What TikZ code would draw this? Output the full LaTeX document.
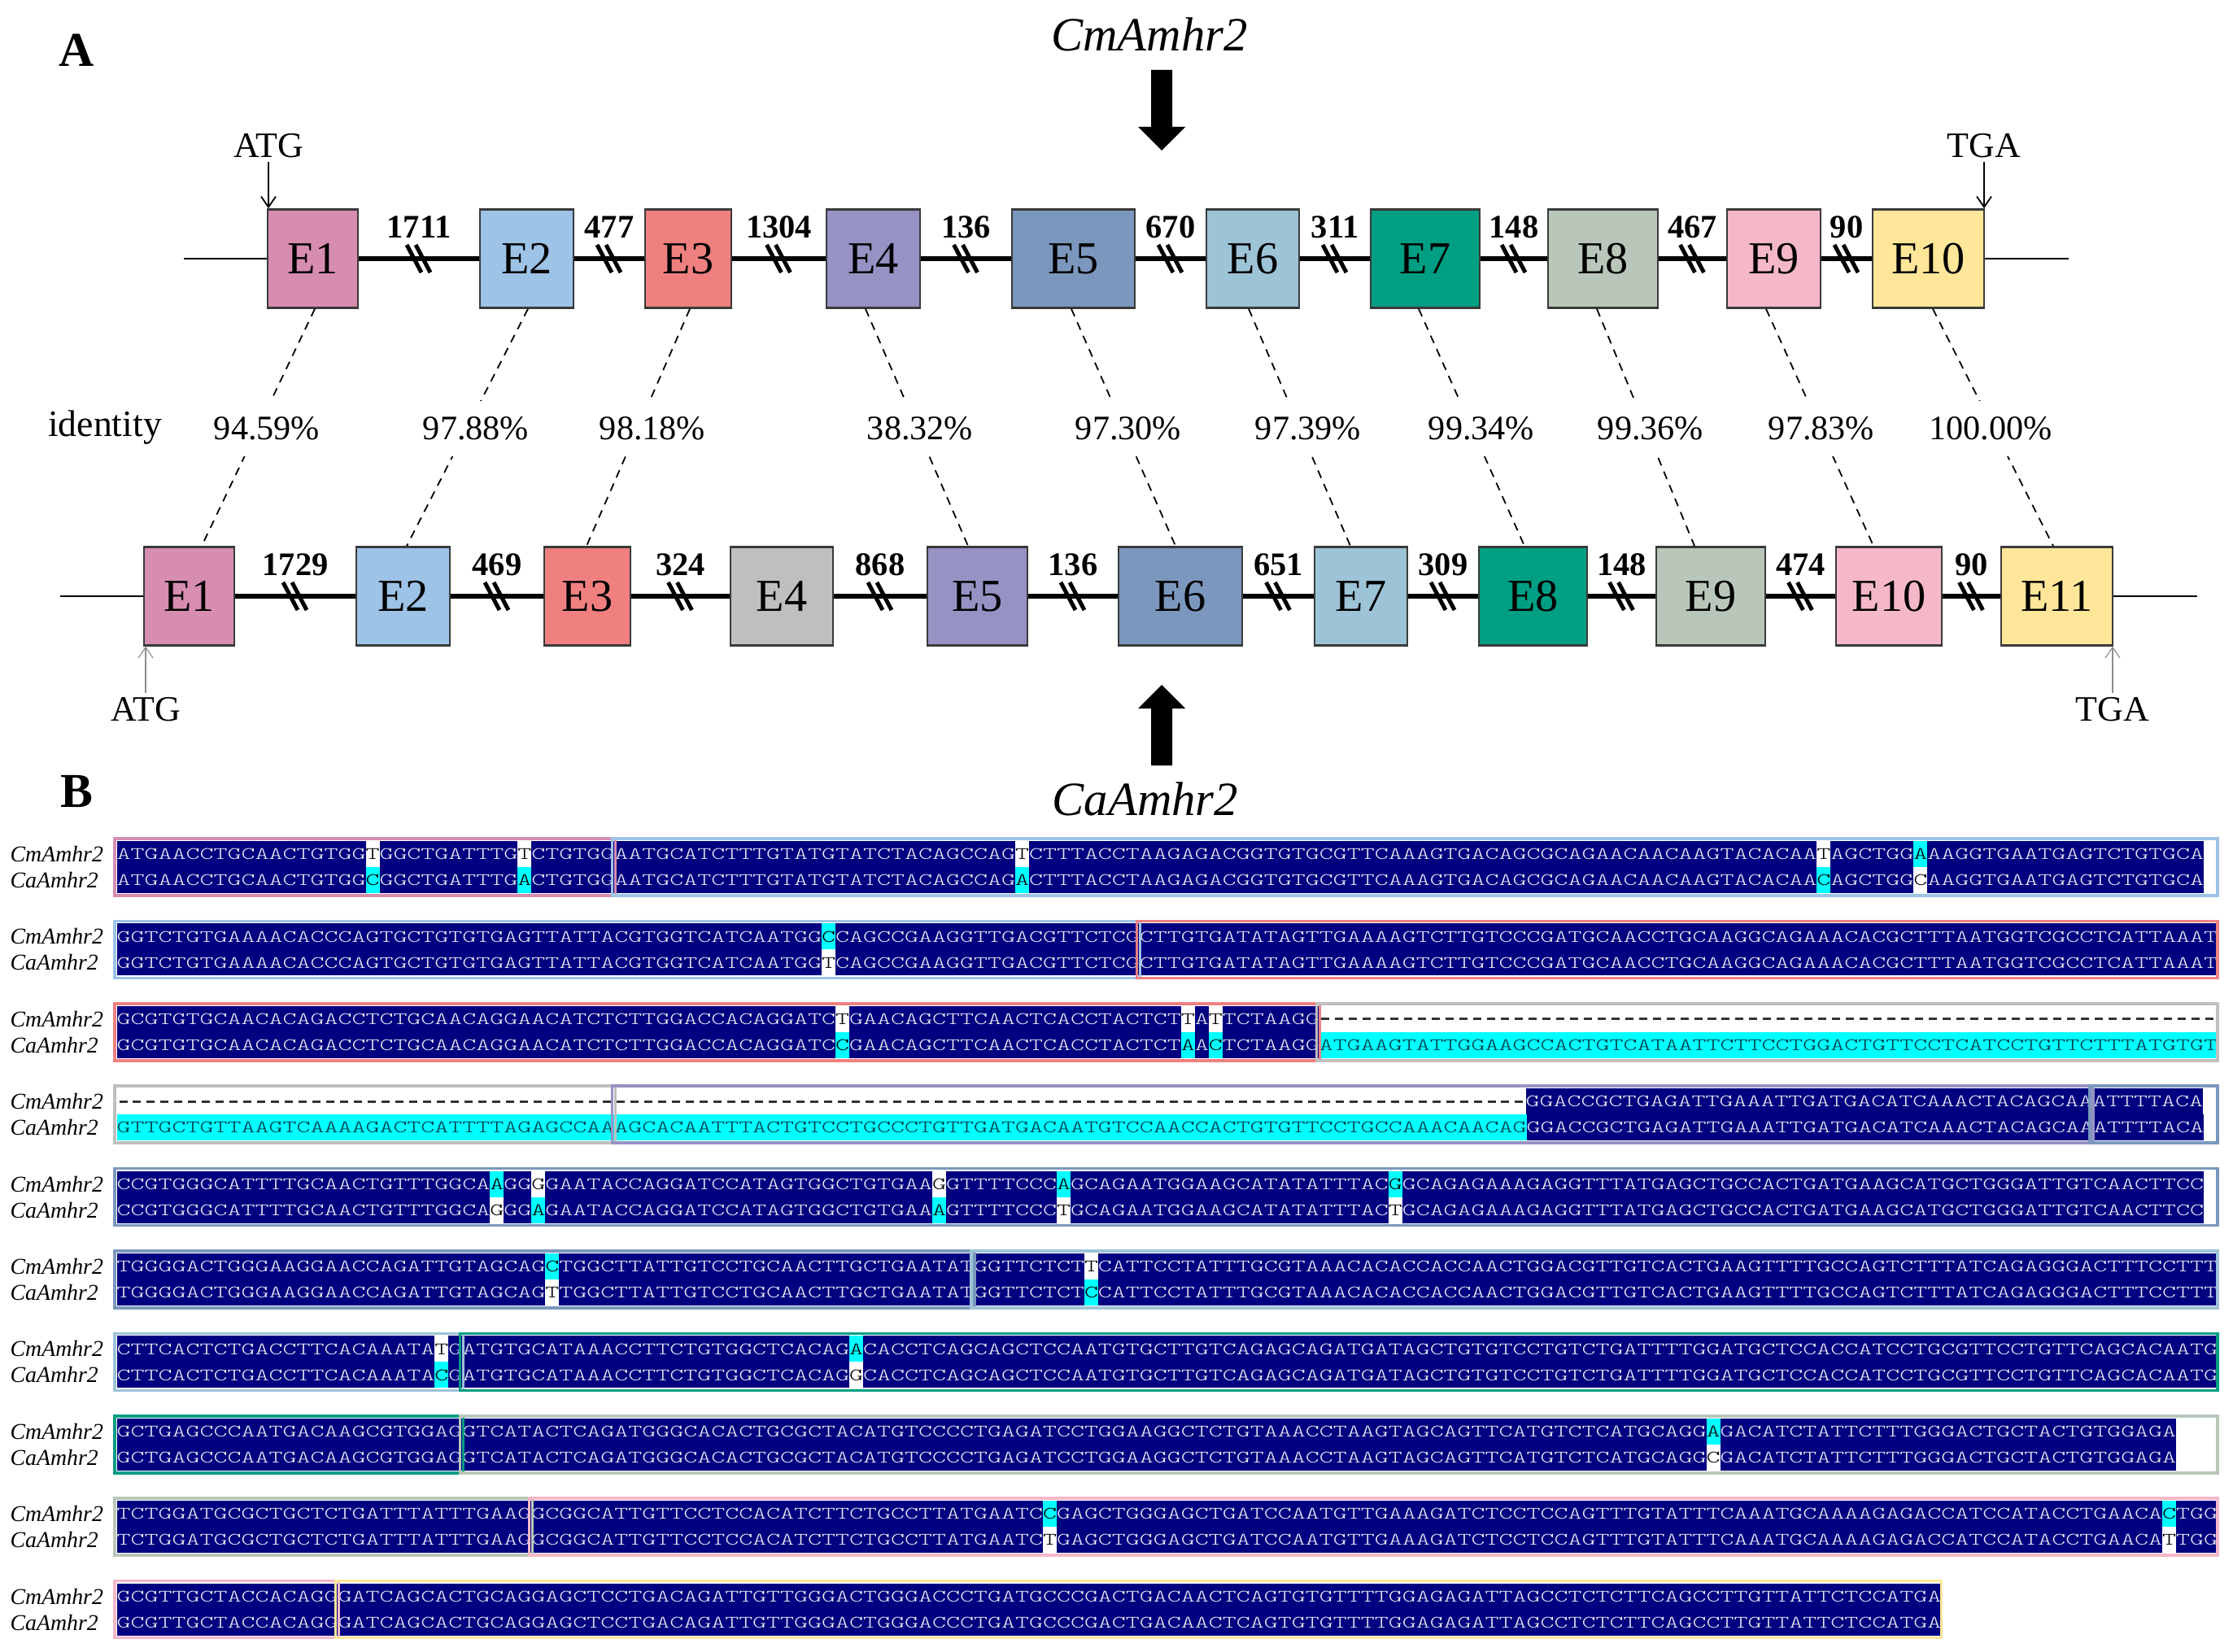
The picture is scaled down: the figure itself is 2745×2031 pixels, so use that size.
\documentclass[tikz,border=0pt]{standalone}
\usepackage{fontspec}
\usepackage{graphicx}
\setmainfont{Liberation Serif}
\newfontfamily\seqff{lmmonolt10-regular.otf}
\usetikzlibrary{calc,arrows.meta}
\definecolor{cE1}{HTML}{D68DB0}
\definecolor{cE2}{HTML}{9DC3E6}
\definecolor{cE3}{HTML}{F08080}
\definecolor{cE4}{HTML}{9692C4}
\definecolor{cE5}{HTML}{7B97BD}
\definecolor{cE6}{HTML}{9DC3D6}
\definecolor{cE7}{HTML}{009E82}
\definecolor{cE8}{HTML}{B9C7BA}
\definecolor{cE9}{HTML}{F5B8C8}
\definecolor{cE10}{HTML}{FFE699}
\definecolor{cGr}{HTML}{BFBFBF}
\definecolor{exonline}{HTML}{3A3A3A}
\definecolor{arrowgray}{HTML}{8C8C8C}
\definecolor{seqnavy}{HTML}{000080}
\definecolor{seqtext}{HTML}{E6E6F2}
\definecolor{hicyan}{HTML}{00FFFF}
\definecolor{cyantext}{HTML}{003A48}
\definecolor{dashgray}{HTML}{333333}
\newlength\cwd
\newcommand\seqbase{\fontsize{6.124pt}{7pt}\seqff}
\AtBeginDocument{\settowidth{\cwd}{\seqbase A}\pgfmathsetmacro\sxf{4.8313/\cwd}\xdef\sxf{\sxf}}
\newcommand\sq{\rule[-2.65pt]{0pt}{9.1pt}}
\newcommand\hW[1]{{\fboxsep=0pt\colorbox{white}{\sq\color{black}#1}}}
\newcommand\hC[1]{{\fboxsep=0pt\colorbox{hicyan}{\sq\color{black}#1}}}
\newcommand\gC[1]{{\fboxsep=0pt\colorbox{hicyan}{\sq\color{cyantext}#1}}}
\newcommand\sqt[1]{\scalebox{\sxf}[1]{\seqbase\sq#1}}
\newcommand\seqrow[5]{%
\node[seqline,anchor=west] (cm#1) at ({143+(#2-1)*16.98},{1031+(#1-1)*101.4+19}) {\sqt{#3}};
\node[seqline,anchor=west] (ca#1) at ({143+(#4-1)*16.98},{1031+(#1-1)*101.4+51}) {\sqt{#5}};
\node[seqlab,anchor=west] (lcm#1) at (12,{1031+(#1-1)*101.4+19}) {CmAmhr2};
\node[seqlab,anchor=west] (lca#1) at (12,{1031+(#1-1)*101.4+51}) {CaAmhr2};}
\newcommand\exseg[4]{\draw[exseg,draw=#4] ({143+(#2-1)*16.98-2},{1031+(#1-1)*101.4}) rectangle ({143+#3*16.98+2},{1031+(#1-1)*101.4+70});}
\newcommand\gapdash[3]{\draw[gapdash] ({143+(#2-1)*16.98+3.5},{1031+(#1-1)*101.4+19}) -- ({143+#3*16.98},{1031+(#1-1)*101.4+19});}
\newcommand\exon[6]{\node[exon,fill=#5,minimum width={(#3-#2)*0.01cm}] (#1) at ({(#2+#3)/2},#4) {#6};}
\begin{document}
\begin{tikzpicture}[x=0.01cm,y=-0.01cm,
  exon/.style={draw=exonline,line width=0.025cm,minimum height=1.21cm,inner sep=0pt,font=\fontsize{16}{18}\selectfont},
  intron/.style={line width=0.065cm},
  thinline/.style={line width=0.02cm},
  brkline/.style={line width=0.05cm},
  inlab/.style={font=\bfseries\fontsize{11.5}{13}\selectfont,inner sep=0pt},
  pct/.style={font=\fontsize{12}{14}\selectfont,fill=white,inner xsep=0.03cm,inner ysep=0.2cm},
  idash/.style={dash pattern=on 0.1cm off 0.08cm,line width=0.018cm},
  cod/.style={font=\fontsize{12.5}{14}\selectfont,inner sep=0.05cm},
  codarrow/.style={line width=0.018cm,-{Straight Barb[length=0.13cm,width=0.18cm]}},
  codarrowg/.style={codarrow,draw=arrowgray,line width=0.012cm},
  gene/.style={font=\itshape\fontsize{16.7}{19}\selectfont,inner sep=0pt},
  panel/.style={font=\bfseries\fontsize{17}{19}\selectfont,inner sep=0pt},
  seqline/.style={fill=seqnavy,text=seqtext,inner sep=0pt},
  seqlab/.style={font=\itshape\fontsize{7.9}{9}\selectfont,inner sep=0pt},
  exseg/.style={line width=0.035cm},
  gapdash/.style={line width=0.03cm,draw=dashgray,dash pattern=on 0.1cm off 0.0698cm}]
\useasboundingbox (0,0) rectangle (2745,2031);
% ---------------- Panel A ----------------
\node[panel] (pA) at (94,62) {A};
\node[panel] (pB) at (94,973) {B};
\node[gene] (gCm) at (1413,42) {CmAmhr2};
\node[gene] (gCa) at (1408,982) {CaAmhr2};
\fill (1415,86) -- (1441,86) -- (1441,156) -- (1457,156) -- (1428,185) -- (1399,156) -- (1415,156) -- cycle;
\fill (1415,941) -- (1441,941) -- (1441,871) -- (1457,871) -- (1428,842) -- (1399,871) -- (1415,871) -- cycle;
% top gene
\exon{tE1}{329}{440}{318}{cE1}{E1}
\exon{tE2}{590}{705}{318}{cE2}{E2}
\exon{tE3}{793}{899}{318}{cE3}{E3}
\exon{tE4}{1016}{1131}{318}{cE4}{E4}
\exon{tE5}{1244}{1395}{318}{cE5}{E5}
\exon{tE6}{1483}{1597}{318}{cE6}{E6}
\exon{tE7}{1685}{1819}{318}{cE7}{E7}
\exon{tE8}{1903}{2038}{318}{cE8}{E8}
\exon{tE9}{2123}{2238}{318}{cE9}{E9}
\exon{tE10}{2302}{2439}{318}{cE10}{E10}
% bottom gene
\exon{bE1}{177}{288}{733}{cE1}{E1}
\exon{bE2}{438}{553}{733}{cE2}{E2}
\exon{bE3}{669}{775}{733}{cE3}{E3}
\exon{bE4}{898}{1024}{733}{cGr}{E4}
\exon{bE5}{1140}{1263}{733}{cE4}{E5}
\exon{bE6}{1375}{1527}{733}{cE5}{E6}
\exon{bE7}{1616}{1730}{733}{cE6}{E7}
\exon{bE8}{1818}{1951}{733}{cE7}{E8}
\exon{bE9}{2036}{2170}{733}{cE8}{E9}
\exon{bE10}{2257}{2387}{733}{cE9}{E10}
\exon{bE11}{2460}{2597}{733}{cE10}{E11}
\coordinate (tL) at (226,318);
\coordinate (tR) at (2543,318);
\coordinate (bL) at (74,733);
\coordinate (bR) at (2701,733);
\draw[thinline] (tL) -- (tE1);
\draw[thinline] (tE10) -- (tR);
\draw[thinline] (bL) -- (bE1);
\draw[thinline] (bE11) -- (bR);
\foreach \a/\b/\n [count=\i] in {tE1/tE2/1711,tE2/tE3/477,tE3/tE4/1304,tE4/tE5/136,tE5/tE6/670,tE6/tE7/311,tE7/tE8/148,tE8/tE9/467,tE9/tE10/90,
  bE1/bE2/1729,bE2/bE3/469,bE3/bE4/324,bE4/bE5/868,bE5/bE6/136,bE6/bE7/651,bE7/bE8/309,bE8/bE9/148,bE9/bE10/474,bE10/bE11/90}{
  \draw[intron] (\a) -- (\b) coordinate[midway] (in\i);
  \node[inlab] (il\i) at ($(in\i)+(0,-39)$) {\n};
  \draw[brkline] ($(in\i)+(-15,-17)$) -- ($(in\i)+(3,17)$) ($(in\i)+(-4,-17)$) -- ($(in\i)+(14,17)$);
}
% start / stop codons
\node[cod] (atgT) at (330,179) {ATG};
\draw[codarrow] (atgT.south) -- (atgT.south |- tE1.north);
\node[cod] (tgaT) at (2439,179) {TGA};
\draw[codarrow] (tgaT.south) -- (tgaT.south |- tE10.north);
\node[cod] (atgB) at (179,872) {ATG};
\draw[codarrowg] (atgB.north) -- (atgB.north |- bE1.south);
\node[cod] (tgaB) at (2597,872) {TGA};
\draw[codarrowg] (tgaB.north) -- (tgaB.north |- bE11.south);
% identity
\node[font=\fontsize{13}{15}\selectfont,inner sep=0pt] (idt) at (129,526) {identity};
\foreach \t/\bo/\dt/\db/\x/\p [count=\j] in {tE1/bE1/2.5/15.5/328/94.59\%,tE2/bE2/1.5/4.5/585/97.88\%,tE3/bE3/2/-1/802/98.18\%,
  tE4/bE5/-9.5/-11.5/1131/38.32\%,tE5/bE6/-2.5/-6/1387/97.30\%,tE6/bE7/-5/-13/1608/97.39\%,tE7/bE8/-8/-10.5/1821/99.34\%,
  tE8/bE9/-7.5/-20/2029/99.36\%,tE9/bE10/-9.5/-19/2239/97.83\%,tE10/bE11/5.5/-4.5/2447/100.00\%}{
  \draw[idash] ([xshift=\dt*0.01cm]\t.south) -- ([xshift=\db*0.01cm]\bo.north);
  \node[pct] (pc\j) at (\x,527) {\p};
}
% ---------------- Panel B ----------------
\seqrow{1}{1}{ATGAACCTGCAACTGTGG\hW{T}GGCTGATTTG\hW{T}CTGTGGAATGCATCTTTGTATGTATCTACAGCCAG\hW{T}CTTTACCTAAGAGACGGTGTGCGTTCAAAGTGACAGCGCAGAACAACAAGTACACAA\hW{T}AGCTGG\hC{A}AAGGTGAATGAGTCTGTGCA}{1}{ATGAACCTGCAACTGTGG\hC{C}GGCTGATTTG\hC{A}CTGTGGAATGCATCTTTGTATGTATCTACAGCCAG\hC{A}CTTTACCTAAGAGACGGTGTGCGTTCAAAGTGACAGCGCAGAACAACAAGTACACAA\hC{C}AGCTGG\hW{C}AAGGTGAATGAGTCTGTGCA}
\exseg{1}{1}{36}{cE1}\exseg{1}{37}{152}{cE2}
\seqrow{2}{1}{GGTCTGTGAAAACACCCAGTGCTGTGTGAGTTATTACGTGGTCATCAATGG\hC{C}CAGCCGAAGGTTGACGTTCTCGCTTGTGATATAGTTGAAAAGTCTTGTCCCGATGCAACCTGCAAGGCAGAAACACGCTTTAATGGTCGCCTCATTAAAT}{1}{GGTCTGTGAAAACACCCAGTGCTGTGTGAGTTATTACGTGGTCATCAATGG\hW{T}CAGCCGAAGGTTGACGTTCTCGCTTGTGATATAGTTGAAAAGTCTTGTCCCGATGCAACCTGCAAGGCAGAAACACGCTTTAATGGTCGCCTCATTAAAT}
\exseg{2}{1}{74}{cE2}\exseg{2}{75}{152}{cE3}
\seqrow{3}{1}{GCGTGTGCAACACAGACCTCTGCAACAGGAACATCTCTTGGACCACAGGATC\hW{T}GAACAGCTTCAACTCACCTACTCT\hW{T}A\hW{T}TCTAAGG}{1}{GCGTGTGCAACACAGACCTCTGCAACAGGAACATCTCTTGGACCACAGGATC\hC{C}GAACAGCTTCAACTCACCTACTCT\hC{A}A\hC{C}TCTAAGG\gC{ATGAAGTATTGGAAGCCACTGTCATAATTCTTCCTGGACTGTTCCTCATCCTGTTCTTTATGTGT}}
\gapdash{3}{88}{152}
\exseg{3}{1}{87}{cE3}\exseg{3}{88}{152}{cGr}
\seqrow{4}{103}{GGACCGCTGAGATTGAAATTGATGACATCAAACTACAGCAAATTTTACA}{1}{\gC{GTTGCTGTTAAGTCAAAAGACTCATTTTAGAGCCAAAGCACAATTTACTGTCCTGCCCTGTTGATGACAATGTCCAACCACTGTGTTCCTGCCAAACAACAG}GGACCGCTGAGATTGAAATTGATGACATCAAACTACAGCAAATTTTACA}
\gapdash{4}{1}{102}
\exseg{4}{1}{36}{cGr}\exseg{4}{37}{143}{cE4}\exseg{4}{144}{152}{cE5}
\seqrow{5}{1}{CCGTGGGCATTTTGCAACTGTTTGGCA\hC{A}GG\hW{G}GAATACCAGGATCCATAGTGGCTGTGAA\hW{G}GTTTTCCC\hC{A}GCAGAATGGAAGCATATATTTAC\hC{G}GCAGAGAAAGAGGTTTATGAGCTGCCACTGATGAAGCATGCTGGGATTGTCAACTTCC}{1}{CCGTGGGCATTTTGCAACTGTTTGGCA\hW{G}GG\hC{A}GAATACCAGGATCCATAGTGGCTGTGAA\hC{A}GTTTTCCC\hW{T}GCAGAATGGAAGCATATATTTAC\hW{T}GCAGAGAAAGAGGTTTATGAGCTGCCACTGATGAAGCATGCTGGGATTGTCAACTTCC}
\exseg{5}{1}{152}{cE5}
\seqrow{6}{1}{TGGGGACTGGGAAGGAACCAGATTGTAGCAG\hC{C}TGGCTTATTGTCCTGCAACTTGCTGAATATGGTTCTCT\hW{T}CATTCCTATTTGCGTAAACACACCACCAACTGGACGTTGTCACTGAAGTTTTGCCAGTCTTTATCAGAGGGACTTTCCTTT}{1}{TGGGGACTGGGAAGGAACCAGATTGTAGCAG\hW{T}TGGCTTATTGTCCTGCAACTTGCTGAATATGGTTCTCT\hC{C}CATTCCTATTTGCGTAAACACACCACCAACTGGACGTTGTCACTGAAGTTTTGCCAGTCTTTATCAGAGGGACTTTCCTTT}
\exseg{6}{1}{62}{cE5}\exseg{6}{63}{152}{cE6}
\seqrow{7}{1}{CTTCACTCTGACCTTCACAAATA\hW{T}GATGTGCATAAACCTTCTGTGGCTCACAG\hC{A}CACCTCAGCAGCTCCAATGTGCTTGTCAGAGCAGATGATAGCTGTGTCCTGTCTGATTTTGGATGCTCCACCATCCTGCGTTCCTGTTCAGCACAATG}{1}{CTTCACTCTGACCTTCACAAATA\hC{C}GATGTGCATAAACCTTCTGTGGCTCACAG\hW{G}CACCTCAGCAGCTCCAATGTGCTTGTCAGAGCAGATGATAGCTGTGTCCTGTCTGATTTTGGATGCTCCACCATCCTGCGTTCCTGTTCAGCACAATG}
\exseg{7}{1}{25}{cE6}\exseg{7}{26}{152}{cE7}
\seqrow{8}{1}{GCTGAGCCCAATGACAAGCGTGGAGGTCATACTCAGATGGGCACACTGCGCTACATGTCCCCTGAGATCCTGGAAGGCTCTGTAAACCTAAGTAGCAGTTCATGTCTCATGCAGG\hC{A}GACATCTATTCTTTGGGACTGCTACTGTGGAGA}{1}{GCTGAGCCCAATGACAAGCGTGGAGGTCATACTCAGATGGGCACACTGCGCTACATGTCCCCTGAGATCCTGGAAGGCTCTGTAAACCTAAGTAGCAGTTCATGTCTCATGCAGG\hW{C}GACATCTATTCTTTGGGACTGCTACTGTGGAGA}
\exseg{8}{1}{25}{cE7}\exseg{8}{26}{152}{cE8}
\seqrow{9}{1}{TCTGGATGCGCTGCTCTGATTTATTTGAAGGCGGCATTGTTCCTCCACATCTTCTGCCTTATGAATC\hC{C}GAGCTGGGAGCTGATCCAATGTTGAAAGATCTCCTCCAGTTTGTATTTCAAATGCAAAAGAGACCATCCATACCTGAACA\hC{C}TGG}{1}{TCTGGATGCGCTGCTCTGATTTATTTGAAGGCGGCATTGTTCCTCCACATCTTCTGCCTTATGAATC\hW{T}GAGCTGGGAGCTGATCCAATGTTGAAAGATCTCCTCCAGTTTGTATTTCAAATGCAAAAGAGACCATCCATACCTGAACA\hW{T}TGG}
\exseg{9}{1}{30}{cE8}\exseg{9}{31}{152}{cE9}
\seqrow{10}{1}{GCGTTGCTACCACAGGGATCAGCACTGCAGGAGCTCCTGACAGATTGTTGGGACTGGGACCCTGATGCCCGACTGACAACTCAGTGTGTTTTGGAGAGATTAGCCTCTCTTCAGCCTTGTTATTCTCCATGA}{1}{GCGTTGCTACCACAGGGATCAGCACTGCAGGAGCTCCTGACAGATTGTTGGGACTGGGACCCTGATGCCCGACTGACAACTCAGTGTGTTTTGGAGAGATTAGCCTCTCTTCAGCCTTGTTATTCTCCATGA}
\exseg{10}{1}{16}{cE9}\exseg{10}{17}{132}{cE10}
\end{tikzpicture}
\end{document}
